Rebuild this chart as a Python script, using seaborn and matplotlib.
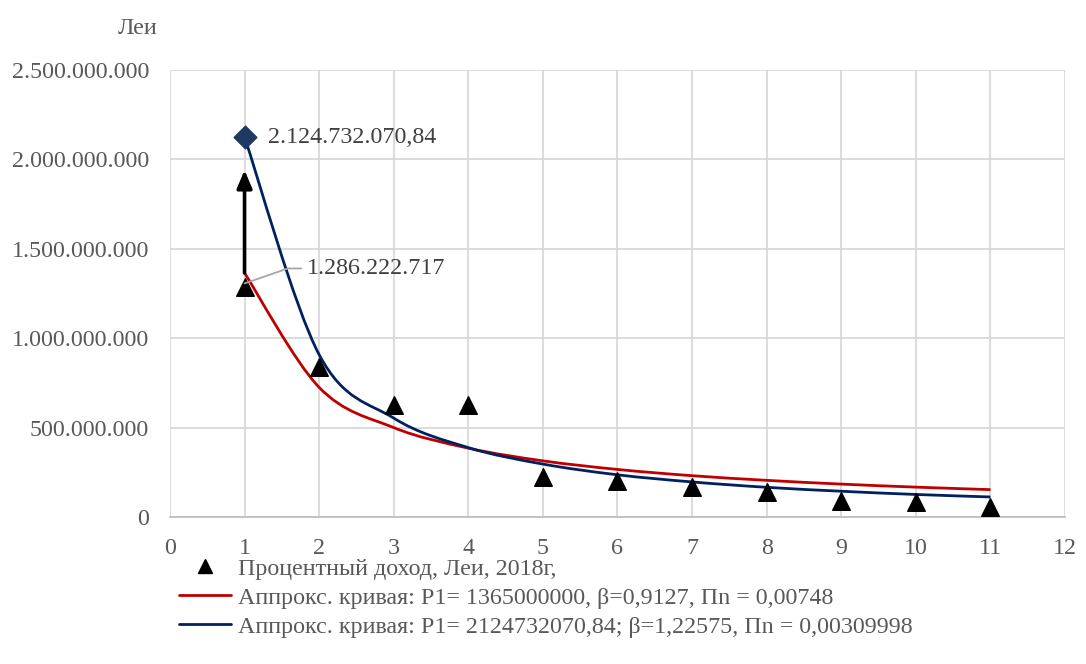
import numpy as np
import pandas as pd
import seaborn as sns
import matplotlib
matplotlib.use("Agg")
import matplotlib.pyplot as plt
from matplotlib.path import Path
from matplotlib.patches import PathPatch
from matplotlib.lines import Line2D
from matplotlib.ticker import FuncFormatter, MultipleLocator

# ---- data ----
periods = [1, 2, 3, 4, 5, 6, 7, 8, 9, 10, 11]
income = [1286222717, 839e6, 626e6, 626e6, 224e6, 203e6, 170e6, 142e6, 89e6, 82e6, 58e6]
curve_red = [1365e6, 725e6, 500e6, 385e6, 314e6, 266e6, 231e6, 205e6, 184e6, 167e6, 153e6]
curve_blue = [2124732070.84, 908e6, 553e6, 388e6, 296e6, 236e6, 196e6, 166e6, 144e6, 126e6, 112e6]
peak_x = [1]
peak_y = [2124732070.84]
arrow_top = 1.94e9

label_scatter = "Процентный доход, Леи, 2018г,"
label_red = "Аппрокс. кривая: P1= 1365000000, β=0,9127, Пn = 0,00748"
label_blue = "Аппрокс. кривая: P1= 2124732070,84; β=1,22575, Пn = 0,00309998"

RED = "#c00000"
BLUE = "#002060"
DIAMOND = "#1f3864"
TXT = "#595959"
GRID = "#d9d9d9"
FS = 17.3

sns.set_theme(style="white")
plt.rcParams["font.family"] = ["Liberation Serif", "DejaVu Serif"]

fig = plt.figure(figsize=(10.86, 6.64), dpi=100)
ax = fig.add_axes([0.1565, 0.2214, 0.8242, 0.6732])


def smooth_path(xs, ys):
    pts = np.column_stack([xs, ys]).astype(float)
    ext = np.vstack([pts[0], pts, pts[-1]])
    verts = [tuple(pts[0])]
    codes = [Path.MOVETO]
    for i in range(len(pts) - 1):
        p0, p1, p2, p3 = ext[i], ext[i + 1], ext[i + 2], ext[i + 3]
        c1 = p1 + (p2 - p0) / 6.0
        c2 = p2 - (p3 - p1) / 6.0
        verts += [tuple(c1), tuple(c2), tuple(p2)]
        codes += [Path.CURVE4, Path.CURVE4, Path.CURVE4]
    return Path(verts, codes)


for ys, col in [(curve_red, RED), (curve_blue, BLUE)]:
    patch = PathPatch(smooth_path(periods, ys), facecolor="none", edgecolor=col,
                      lw=2.0, transform=ax.transData, zorder=3)
    ax.add_patch(patch)

df = pd.DataFrame({"x": periods, "y": income})
sns.scatterplot(data=df, x="x", y="y", marker="^", s=160, color="black",
                edgecolor="black", ax=ax, zorder=4, legend=False)
sns.scatterplot(x=peak_x, y=peak_y, marker="D", s=135, color=DIAMOND,
                edgecolor=DIAMOND, ax=ax, zorder=5, legend=False)

# arrow
ax.annotate("", xy=(1, arrow_top), xytext=(1, curve_red[0]),
            arrowprops=dict(arrowstyle="-|>,head_length=0.9,head_width=0.38",
                            color="black", lw=2.6, shrinkA=0, shrinkB=0), zorder=6)

# data labels
ax.text(1.32, peak_y[0], "2.124.732.070,84", fontsize=FS, color="#404040",
        va="center", ha="left")
ax.plot([1.0, 1.58, 1.76], [income[0] + 0.02e9, 1.39e9, 1.39e9], color="#a6a6a6", lw=1.3, zorder=6)
ax.text(1.84, 1.39e9, "1.286.222.717", fontsize=FS, color="#404040",
        va="center", ha="left")

ax.set_xlim(0, 12)
ax.set_ylim(0, 2.5e9)
ax.xaxis.set_major_locator(MultipleLocator(1))
ax.yaxis.set_major_locator(MultipleLocator(5e8))
ax.yaxis.set_major_formatter(FuncFormatter(lambda v, p: "0" if v == 0 else f"{int(round(v)):,}".replace(",", ".")))
ax.grid(True, color=GRID, lw=1.3)
ax.set_axisbelow(True)
for s in ["left", "right", "top"]:
    ax.spines[s].set_visible(False)
ax.spines["bottom"].set_color("#bfbfbf")
ax.spines["bottom"].set_linewidth(1.3)
ax.tick_params(axis="both", length=0, labelsize=FS, labelcolor=TXT)
ax.tick_params(axis="x", pad=15)
ax.tick_params(axis="y", pad=15)
ax.set_xlabel("")
ax.set_ylabel("")

fig.text(138 / 1086, 1 - 28 / 664, "Леи", fontsize=FS, color=TXT, ha="center", va="center")

handles = [
    Line2D([], [], marker="^", color="black", lw=0, markersize=10),
    Line2D([], [], color=RED, lw=2),
    Line2D([], [], color=BLUE, lw=2),
]
fig.legend(handles, [label_scatter, label_red, label_blue], loc="upper left",
           bbox_to_anchor=(0.149, 0.185), frameon=False, fontsize=FS,
           labelcolor=TXT, handlelength=2.2, handletextpad=0.25, labelspacing=0.3,
           borderpad=0.2)

fig.savefig("out.png", dpi=100)
